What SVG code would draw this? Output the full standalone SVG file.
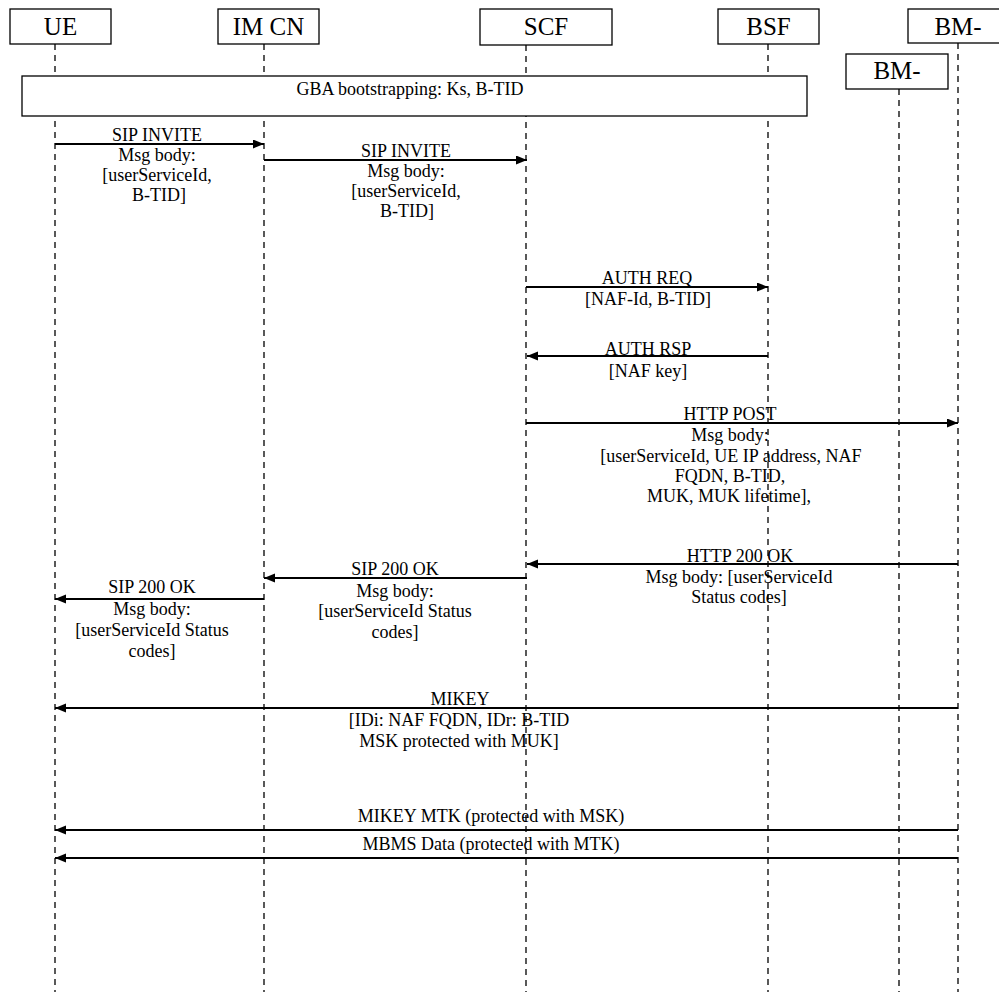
<svg xmlns="http://www.w3.org/2000/svg" width="999" height="992" viewBox="0 0 999 992">
  <style>
    .box { fill: #fff; stroke: #000; stroke-width: 1.3; }
    .life { stroke: #000; stroke-width: 1.3; stroke-dasharray: 6 5; fill: none; }
    .msg { stroke: #000; stroke-width: 2; fill: none; marker-end: url(#arrow); }
    text { font-family: "Liberation Serif", "Times New Roman", serif; fill: #000; }
    .h { font-size: 25px; text-anchor: middle; }
    .t { font-size: 18px; text-anchor: middle; }
  </style>
  <defs>
    <marker id="arrow" markerUnits="userSpaceOnUse" markerWidth="12" markerHeight="10" refX="11" refY="4.5" orient="auto">
      <path d="M0,0 L11,4.5 L0,9 Z" fill="#000"/>
    </marker>
  </defs>
  <rect width="999" height="992" fill="#fff"/>

  <!-- participants: header box, name, dashed lifeline -->
  <g id="ue">
    <line class="life" x1="55" y1="44" x2="55" y2="992"/>
    <rect class="box" x="10" y="9" width="101" height="35"/>
    <text class="h" x="60.5" y="35">UE</text>
  </g>
  <g id="imcn">
    <line class="life" x1="264" y1="44" x2="264" y2="992"/>
    <rect class="box" x="218" y="9" width="101" height="35"/>
    <text class="h" x="268.5" y="35">IM CN</text>
  </g>
  <g id="scf">
    <line class="life" x1="526" y1="45" x2="526" y2="992"/>
    <rect class="box" x="480" y="9" width="132" height="36"/>
    <text class="h" x="546" y="35">SCF</text>
  </g>
  <g id="bsf">
    <line class="life" x1="768" y1="44" x2="768" y2="992"/>
    <rect class="box" x="718" y="9" width="101" height="35"/>
    <text class="h" x="768.5" y="35">BSF</text>
  </g>
  <g id="bm-sc">
    <line class="life" x1="958" y1="43" x2="958" y2="992"/>
    <rect class="box" x="908" y="9" width="101" height="34"/>
    <text class="h" x="958" y="35">BM-</text>
  </g>
  <g id="bm-sc-2">
    <line class="life" x1="899" y1="89" x2="899" y2="992"/>
    <rect class="box" x="846" y="54" width="102" height="35"/>
    <text class="h" x="897" y="79">BM-</text>
  </g>

  <!-- GBA bootstrapping spans the lifelines -->
  <g id="gba">
    <rect class="box" x="22" y="76" width="785" height="40"/>
    <text class="t" x="410" y="95">GBA bootstrapping: Ks, B-TID</text>
  </g>

  <g id="connectors">
    <g id="m1">
      <line class="msg" x1="55" y1="144" x2="264" y2="144"/>
      <text class="t" x="157" y="141">SIP INVITE</text>
      <text class="t" x="157" y="161">Msg body:</text>
      <text class="t" x="157" y="181">[userServiceId,</text>
      <text class="t" x="159" y="201">B-TID]</text>
    </g>
    <g id="m2">
      <line class="msg" x1="264" y1="160" x2="527" y2="160"/>
      <text class="t" x="406" y="157">SIP INVITE</text>
      <text class="t" x="406" y="177">Msg body:</text>
      <text class="t" x="406" y="197">[userServiceId,</text>
      <text class="t" x="407" y="217">B-TID]</text>
    </g>
    <g id="m3">
      <line class="msg" x1="526" y1="287" x2="768" y2="287"/>
      <text class="t" x="647" y="284">AUTH REQ</text>
      <text class="t" x="648" y="305">[NAF-Id, B-TID]</text>
    </g>
    <g id="m4">
      <line class="msg" x1="768" y1="356" x2="527" y2="356"/>
      <text class="t" x="648" y="355">AUTH RSP</text>
      <text class="t" x="648" y="377">[NAF key]</text>
    </g>
    <g id="m5">
      <line class="msg" x1="526" y1="423" x2="958" y2="423"/>
      <text class="t" x="730" y="420">HTTP POST</text>
      <text class="t" x="730" y="441">Msg body:</text>
      <text class="t" x="731" y="462">[userServiceId,  UE IP address, NAF</text>
      <text class="t" x="730" y="482">FQDN, B-TID,</text>
      <text class="t" x="729" y="502">MUK, MUK lifetime],</text>
    </g>
    <g id="m6">
      <line class="msg" x1="958" y1="564" x2="527" y2="564"/>
      <text class="t" x="740" y="562">HTTP 200 OK</text>
      <text class="t" x="739" y="583">Msg body: [userServiceId</text>
      <text class="t" x="739" y="603">Status codes]</text>
    </g>
    <g id="m7">
      <line class="msg" x1="527" y1="578" x2="264" y2="578"/>
      <text class="t" x="395" y="575">SIP 200 OK</text>
      <text class="t" x="395" y="597">Msg body:</text>
      <text class="t" x="395" y="617">[userServiceId Status</text>
      <text class="t" x="395" y="638">codes]</text>
    </g>
    <g id="m8">
      <line class="msg" x1="264" y1="599" x2="55" y2="599"/>
      <text class="t" x="152" y="593">SIP 200 OK</text>
      <text class="t" x="152" y="615">Msg body:</text>
      <text class="t" x="152" y="636">[userServiceId Status</text>
      <text class="t" x="152" y="657">codes]</text>
    </g>
    <g id="m9">
      <line class="msg" x1="958" y1="708" x2="55" y2="708"/>
      <text class="t" x="460" y="705">MIKEY</text>
      <text class="t" x="459" y="726">[IDi: NAF FQDN, IDr: B-TID</text>
      <text class="t" x="459" y="747">MSK protected with MUK]</text>
    </g>
    <g id="m10">
      <line class="msg" x1="958" y1="830" x2="55" y2="830"/>
      <text class="t" x="491" y="822">MIKEY MTK (protected with MSK)</text>
    </g>
    <g id="m11">
      <line class="msg" x1="958" y1="858" x2="55" y2="858"/>
      <text class="t" x="491" y="850">MBMS Data (protected with MTK)</text>
    </g>
  </g>
</svg>
